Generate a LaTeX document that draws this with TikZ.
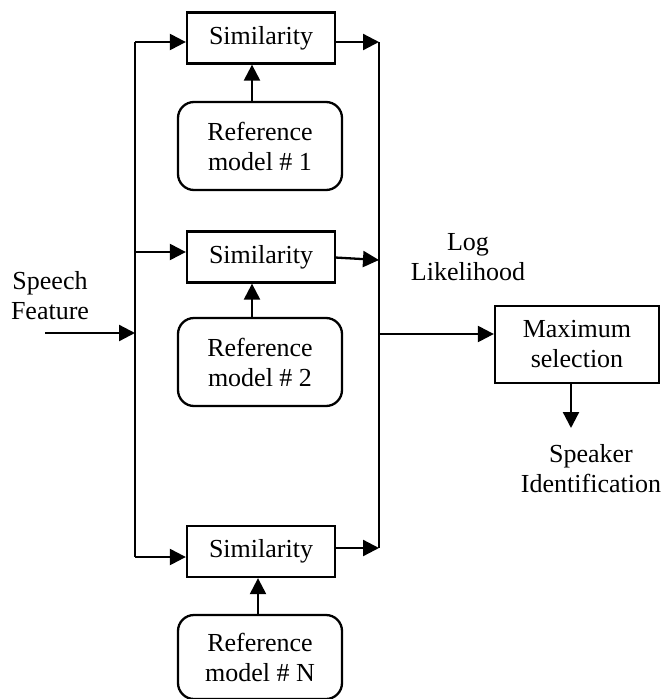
\documentclass[tikz,border=0pt]{standalone}
\usepackage{fontspec}
\setmainfont{Liberation Serif}
\usetikzlibrary{arrows.meta}
\begin{document}
\begin{tikzpicture}[x=1pt,y=-1pt,
  every node/.style={font=\fontsize{26}{30}\selectfont, align=center, inner sep=0pt},
  simbox/.style={draw, line width=2.3pt, minimum width=148pt, minimum height=51pt},
  refbox/.style={draw, line width=2.3pt, rounded corners=16pt, minimum width=164pt, minimum height=88pt},
  maxbox/.style={draw, line width=2.3pt, minimum width=164pt, minimum height=77pt},
  wire/.style={line width=2.3pt},
  arr/.style={line width=2.3pt, -{Triangle[length=16pt,width=16pt]}}]
\useasboundingbox (0,0) rectangle (665,699);
% nodes
\node[simbox] (s1) at (261,38) {Similarity};
\node[simbox] (s2) at (261,257) {Similarity};
\node[simbox] (s3) at (261,551.5) {Similarity};
\node[refbox] (r1) at (260,146) {Reference\\model \# 1};
\node[refbox] (r2) at (260,362) {Reference\\model \# 2};
\node[refbox, minimum height=84pt] (rN) at (260,657) {Reference\\model \# N};
\node[maxbox] (mx) at (577,344.5) {Maximum\\selection};
\node (sf) at (50,296) {Speech\\Feature};
\node (ll) at (468,257) {Log\\Likelihood};
\node (si) at (591,469) {Speaker\\Identification};
% coordinates
\coordinate (lt) at (135,42);
\coordinate (lm) at (135,252);
\coordinate (lb) at (135,557);
\coordinate (fin) at (45,333);
\coordinate (fj) at (135,333);
\coordinate (rt) at (379,42);
\coordinate (rm) at (379,260);
\coordinate (rb) at (379,548);
\coordinate (rj) at (379,334);
\coordinate (mo) at (571,383);
\coordinate (me) at (571,428);
% buses
\draw[wire] (lt) -- (lb);
\draw[wire] (rt) -- (rb);
% input arrows
\draw[arr] (fin) -- (fj);
\draw[arr] (lt) -- (lt -| s1.west);
\draw[arr] (lm) -- (lm -| s2.west);
\draw[arr] (lb) -- (lb -| s3.west);
% outputs
\draw[arr] (rt -| s1.east) -- (rt);
\draw[arr] (335,257.5) -- (rm);
\draw[arr] (rb -| s3.east) -- (rb);
% reference to similarity
\draw[arr] (r1.north -| 252,0) -- (s1.south -| 252,0);
\draw[arr] (r2.north -| 252,0) -- (s2.south -| 252,0);
\draw[arr] (rN.north -| 258,0) -- (s3.south -| 258,0);
% to max
\draw[arr] (rj) -- (rj -| mx.west);
\draw[arr] (mo) -- (me);
\end{tikzpicture}
\end{document}
